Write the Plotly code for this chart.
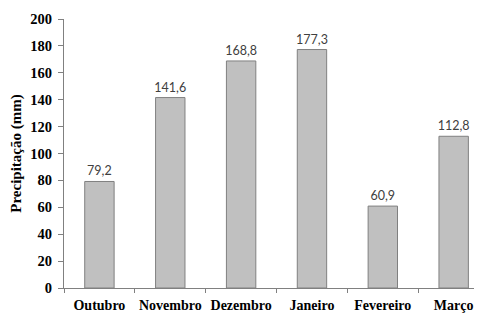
import plotly.graph_objects as go

months = ["Outubro", "Novembro", "Dezembro", "Janeiro", "Fevereiro", "Março"]
precip = [79.2, 141.6, 168.8, 177.3, 60.9, 112.8]
labels = ["79,2", "141,6", "168,8", "177,3", "60,9", "112,8"]

fig = go.Figure(go.Bar(
    x=months, y=precip, text=labels, textposition="outside",
    textfont=dict(family="Lato, Liberation Sans", size=12.5, color="#404040"),
    marker=dict(color="#c0c0c0", line=dict(color="#808080", width=1)),
    width=0.415, cliponaxis=False, constraintext="none",
))

# page has an 8px body margin, so the figure is sized to fill the rest of the window
fig.update_layout(
    width=474, height=308,
    margin=dict(l=56, r=0, t=11, b=28),
    plot_bgcolor="white", paper_bgcolor="white",
    showlegend=False,
    xaxis=dict(
        range=[-0.5, 5.4], automargin=False, showline=True, linecolor="#808080", linewidth=1,
        ticks="outside", tickson="boundaries", ticklen=4, tickcolor="#808080", tickangle=0,
        ticklabelstandoff=4,
        tickfont=dict(family="Liberation Serif", size=14, color="black", weight="bold"),
        showgrid=False,
    ),
    yaxis=dict(
        range=[0, 200], dtick=20, automargin=False, showline=True, linecolor="#808080", linewidth=1,
        ticks="outside", ticklen=5, tickcolor="#808080", showgrid=False, zeroline=False,
        ticklabelstandoff=3,
        tickfont=dict(family="Liberation Serif", size=14.5, color="black", weight="bold"),
        title=dict(text="Precipitação (mm)", standoff=10,
                   font=dict(family="Liberation Serif", size=15, color="black", weight="bold")),
    ),
)

fig.write_html("out.html")
